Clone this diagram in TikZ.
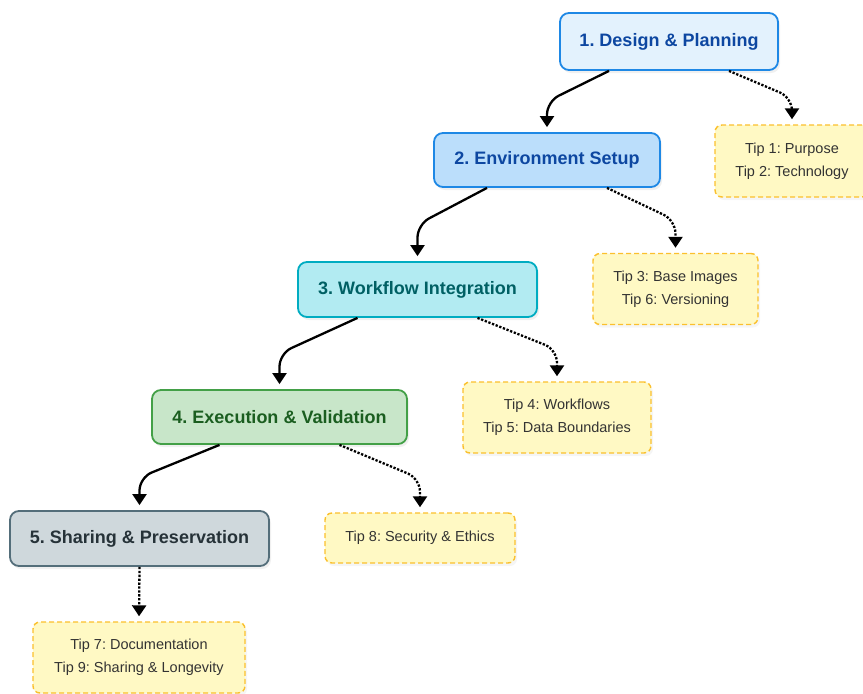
\documentclass[tikz,border=0pt]{standalone}
\usepackage{fontspec}
\setmainfont{Liberation Sans}
\usetikzlibrary{calc}
\usetikzlibrary{arrows.meta}
\usetikzlibrary{shadows}
\frenchspacing

\definecolor{planfill}{HTML}{E3F2FD}
\definecolor{envfill}{HTML}{BBDEFB}
\definecolor{blueline}{HTML}{1E88E5}
\definecolor{bluetext}{HTML}{0D47A1}
\definecolor{wffill}{HTML}{B2EBF2}
\definecolor{wfline}{HTML}{00ACC1}
\definecolor{wftext}{HTML}{006064}
\definecolor{exfill}{HTML}{C8E6C9}
\definecolor{exline}{HTML}{43A047}
\definecolor{extext}{HTML}{1B5E20}
\definecolor{shfill}{HTML}{CFD8DC}
\definecolor{shline}{HTML}{546E7A}
\definecolor{shtext}{HTML}{263238}
\definecolor{tipfill}{HTML}{FFF9C4}
\definecolor{tipline}{HTML}{FBC02D}
\definecolor{tiptext}{HTML}{333333}

\begin{document}
\begin{tikzpicture}[x=1pt,y=-1pt,
    stage/.style={draw, line width=1.8pt, rounded corners=9pt, align=center,
      inner sep=0pt, font=\fontsize{18}{22}\selectfont\bfseries,
      drop shadow={shadow xshift=2pt, shadow yshift=-3pt, opacity=0.12}},
    tipbox/.style={draw=tipline, fill=tipfill, text=tiptext, line width=1.4pt,
      dash pattern=on 5pt off 3pt, rounded corners=7pt, align=center,
      inner sep=0pt, font=\fontsize{14.5}{23}\selectfont,
      drop shadow={shadow xshift=2pt, shadow yshift=-3pt, opacity=0.08}},
    flow/.style={line width=2.3pt, rounded corners=13pt, shorten >=5pt,
      -{Triangle[width=14pt,length=11pt]}},
    hint/.style={flow, dash pattern=on 2.3pt off 1.6pt}
    ]
\useasboundingbox (0,0) rectangle (863,694);

% stages
\node[stage, fill=planfill, draw=blueline, text=bluetext, minimum width=218pt, minimum height=57pt] (d1) at (669,41.5) {1. Design \& Planning};
\node[stage, fill=envfill, draw=blueline, text=bluetext, minimum width=226pt, minimum height=54pt] (d2) at (547,160) {2. Environment Setup};
\node[stage, fill=wffill, draw=wfline, text=wftext, minimum width=239pt, minimum height=55pt] (d3) at (417.5,289.5) {3. Workflow Integration};
\node[stage, fill=exfill, draw=exline, text=extext, minimum width=255pt, minimum height=54pt] (d4) at (279.5,417) {4. Execution \& Validation};
\node[stage, fill=shfill, draw=shline, text=shtext, minimum width=259pt, minimum height=55pt] (d5) at (139.5,538.5) {5. Sharing \& Preservation};

% tips
\node[tipbox, minimum width=154pt, minimum height=72pt] (t1) at (792,161) {Tip 1: Purpose\\Tip 2: Technology};
\node[tipbox, minimum width=165pt, minimum height=71pt] (t3) at (675.5,289) {Tip 3: Base Images\\Tip 6: Versioning};
\node[tipbox, minimum width=188pt, minimum height=71pt] (t4) at (557,417.5) {Tip 4: Workflows\\Tip 5: Data Boundaries};
\node[tipbox, minimum width=190pt, minimum height=50pt] (t8) at (420,538) {Tip 8: Security \& Ethics};
\node[tipbox, minimum width=212pt, minimum height=71pt] (t7) at (139,657.5) {Tip 7: Documentation\\Tip 9: Sharing \& Longevity};

% stage to stage
\coordinate (s1) at ([xshift=-60pt]d1.south);
\coordinate (m1) at ($(s1)!.5!(d2.north)$);
\draw[flow] (s1) -- (m1 -| d2.north) -- (d2.north);
\coordinate (s2) at ([xshift=-60pt]d2.south);
\coordinate (m2) at ($(s2)!.5!(d3.north)$);
\draw[flow] (s2) -- (m2 -| d3.north) -- (d3.north);
\coordinate (s3) at ([xshift=-60pt]d3.south);
\coordinate (m3) at ($(s3)!.5!(d4.north)$);
\draw[flow] (s3) -- (m3 -| d4.north) -- (d4.north);
\coordinate (s4) at ([xshift=-60pt]d4.south);
\coordinate (m4) at ($(s4)!.5!(d5.north)$);
\draw[flow] (s4) -- (m4 -| d5.north) -- (d5.north);

% stage to tips
\coordinate (h1) at ([xshift=60pt]d1.south);
\coordinate (n1) at ($(h1)!.5!(t1.north)$);
\draw[hint] (h1) -- (n1 -| t1.north) -- (t1.north);
\coordinate (h2) at ([xshift=60pt]d2.south);
\coordinate (n2) at ($(h2)!.5!(t3.north)$);
\draw[hint] (h2) -- (n2 -| t3.north) -- (t3.north);
\coordinate (h3) at ([xshift=60pt]d3.south);
\coordinate (n3) at ($(h3)!.5!(t4.north)$);
\draw[hint] (h3) -- (n3 -| t4.north) -- (t4.north);
\coordinate (h4) at ([xshift=60pt]d4.south);
\coordinate (n4) at ($(h4)!.5!(t8.north)$);
\draw[hint] (h4) -- (n4 -| t8.north) -- (t8.north);
\draw[hint] (d5.south) -- (t7.north);
\end{tikzpicture}
\end{document}
